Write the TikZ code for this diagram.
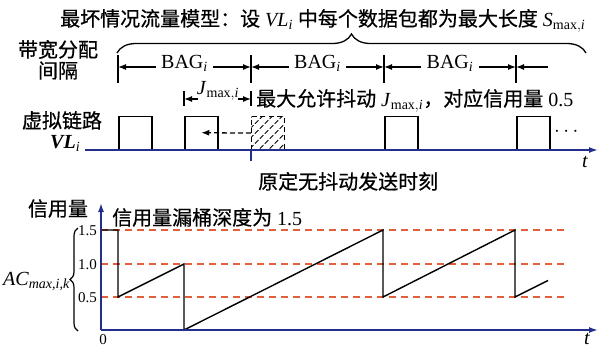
\documentclass[tikz,border=0pt]{standalone}
\usepackage{amsmath}
\usepackage{fontspec}
\setmainfont{Liberation Serif}
\newfontfamily\cjk[FakeBold=0.6]{Noto Sans CJK SC}
\usetikzlibrary{arrows.meta,decorations.pathreplacing,patterns.meta}
\definecolor{axisblue}{RGB}{35,45,140}
\definecolor{refred}{RGB}{225,95,60}
\newcommand\zh[1]{{\cjk #1}}
\begin{document}
\begin{tikzpicture}[x=1pt,y=-1pt,
  lbl/.style={inner sep=0pt,font=\fontsize{20}{24}\selectfont},
  numlbl/.style={inner sep=0pt,font=\fontsize{15}{18}\selectfont},
  baglbl/.style={lbl,inner xsep=5pt},
  pkt/.style={draw,line width=1.5pt,minimum width=33pt,minimum height=33pt,inner sep=0pt,anchor=south west},
  hatchpkt/.style={pkt,line width=1.3pt,dash pattern=on 5pt off 3.5pt,
    pattern={Lines[angle=45,distance=7pt,line width=0.9pt]}},
  dimarr/.style={line width=1.3pt,-{Latex[length=8pt,width=6pt]}},
  dasharr/.style={line width=1.3pt,dash pattern=on 5pt off 3pt,-{Latex[length=8pt,width=6pt]}},
  bagtick/.style={line width=1.3pt},
  blueaxis/.style={draw=axisblue,line width=1.6pt,-{Latex[length=9pt,width=6pt]}},
  lvl/.style={draw=refred,line width=1.3pt,dash pattern=on 7pt off 5pt},
  credit/.style={line width=1.4pt,line join=miter},
  bigbrace/.style={decorate,decoration={brace,amplitude=19pt},line width=1.3pt},
  acbrace/.style={decorate,decoration={brace,amplitude=8pt},line width=1.2pt}
]
\useasboundingbox (0,0) rectangle (600,349);

% title and brace
\node[lbl,anchor=base west] (title) at (60,26) {\zh{最坏情况流量模型：设} \textit{VL}$_{\textit{i}}$ \zh{中每个数据包都为最大长度} \textit{S}$_{\text{max},\textit{i}}$};
\coordinate (brL) at (117,53);
\coordinate (brR) at (586,53);
\draw[bigbrace] (brL) -- (brR);

% left labels
\node[lbl,anchor=base] (bw1) at (58,57) {\zh{带宽分配}};
\node[lbl,anchor=base] (bw2) at (58,78) {\zh{间隔}};
\node[lbl,anchor=base] (vl1) at (62,128) {\zh{虚拟链路}};
\node[lbl,anchor=base west] (vl2) at (50,148) {\textbf{\textit{VL}}$_{\textit{i}}$};

% BAG dimension lines
\foreach \n/\x in {1/118,2/251,3/384,4/516} {
  \coordinate (tt\n) at (\x,55);
  \coordinate (tb\n) at (\x,83);
  \coordinate (a\n) at (\x,67);
  \draw[bagtick] (tt\n) -- (tb\n);
}
\coordinate (a5) at (548,67);
\node[baglbl,anchor=base] (bag1) at (184.5,68) {BAG$_{\textit{i}}$};
\node[baglbl,anchor=base] (bag2) at (317.5,68) {BAG$_{\textit{i}}$};
\node[baglbl,anchor=base] (bag3) at (450,68) {BAG$_{\textit{i}}$};
\draw[dimarr] (bag1.west |- a1) -- (a1);
\draw[dimarr] (bag1.east |- a2) -- (a2);
\draw[dimarr] (bag2.west |- a2) -- (a2);
\draw[dimarr] (bag2.east |- a3) -- (a3);
\draw[dimarr] (bag3.west |- a3) -- (a3);
\draw[dimarr] (bag3.east |- a4) -- (a4);
\draw[dimarr] (a5) -- (a4);

% Jmax dimension
\coordinate (jt1) at (184,91); \coordinate (jb1) at (184,106);
\coordinate (jt2) at (251,91); \coordinate (jb2) at (251,106);
\coordinate (j1) at (184,99); \coordinate (j2) at (251,99);
\coordinate (js1) at (198,99); \coordinate (js2) at (238,99);
\draw[bagtick] (jt1) -- (jb1);
\draw[bagtick] (jt2) -- (jb2);
\draw[dimarr] (js1) -- (j1);
\draw[dimarr] (js2) -- (j2);
\node[lbl,anchor=base] (jlab) at (218,94) {\textit{J}$_{\text{max},\textit{i}}$};
\node[lbl,anchor=base west] (jtxt) at (256,106) {\zh{最大允许抖动} \textit{J}$_{\text{max},\textit{i}}$\zh{，对应信用量} 0.5};

% packets on VL
\node[pkt] (p1) at (118,150) {};
\node[pkt] (p2) at (184,150) {};
\node[hatchpkt] (p3) at (251,150) {};
\node[pkt] (p4) at (384,150) {};
\node[pkt] (p5) at (516,150) {};
\draw[dasharr] (p3.west) -- (p2.center);
\node[lbl,anchor=center] (dots) at (568,132) {$\cdots$};

% VL time axis
\coordinate (o1) at (85,150);
\coordinate (e1) at (598,150);
\coordinate (m1) at (251,161);
\draw[blueaxis] (o1) -- (e1);
\draw[draw=axisblue,line width=1.3pt] (p3.south west) -- (m1);
\node[lbl,anchor=base] (t1) at (585,167) {\textit{t}};
\node[lbl,anchor=base west] (orig) at (258,189) {\zh{原定无抖动发送时刻}};

% credit chart
\coordinate (o2) at (101,330);
\coordinate (ey) at (101,203);
\coordinate (ex) at (598,330);
\foreach \n/\y in {1/230,2/264,3/297} {
  \coordinate (ls\n) at (101,\y);
  \coordinate (le\n) at (567,\y);
  \draw[lvl] (ls\n) -- (le\n);
}
\draw[credit] (101,230) -- (118,230) -- (118,297) -- (184,264) -- (184,330)
  -- (383,230) -- (383,297) -- (515,230) -- (515,297) -- (548,280.5);
\draw[blueaxis] (o2) -- (ex);
\draw[blueaxis] (o2) -- (ey);

\node[lbl,anchor=base] (cy) at (58,216) {\zh{信用量}};
\node[lbl,anchor=base west] (depth) at (112,225) {\zh{信用量漏桶深度为} 1.5};
\node[numlbl,anchor=base east] (v15) at (97,235) {1.5};
\node[numlbl,anchor=base east] (v10) at (97,269) {1.0};
\node[numlbl,anchor=base east] (v05) at (97,302) {0.5};
\node[numlbl,anchor=base] (v0) at (103,344) {0};
\node[lbl,anchor=base] (t2) at (587,344) {\textit{t}};
\coordinate (acb) at (78,331);
\coordinate (act) at (78,228);
\draw[acbrace] (acb) -- (act);
\node[lbl,anchor=base east] (ac) at (70,285) {\textit{AC}$_{\textit{max,i,k}}$};
\end{tikzpicture}
\end{document}
